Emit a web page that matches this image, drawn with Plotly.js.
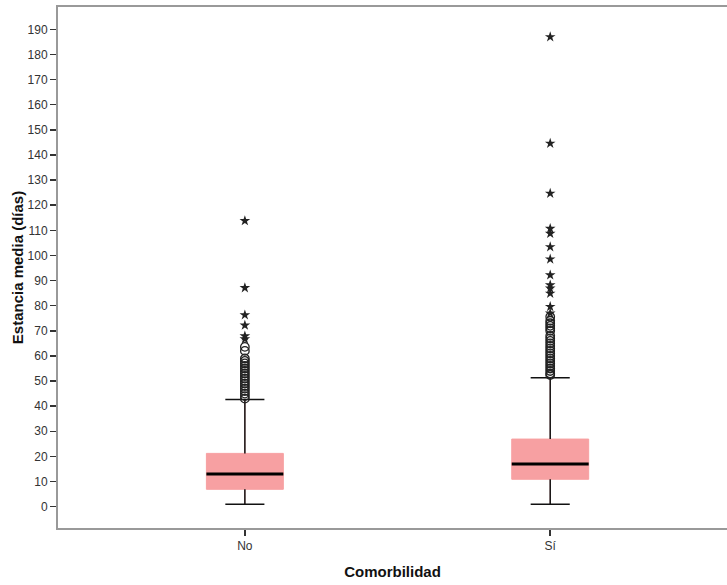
<!DOCTYPE html>
<html>
<head>
<meta charset="utf-8">
<script src="https://cdn.plot.ly/plotly-3.0.1.min.js"></script>
<style>html,body{margin:0;padding:0;background:#fff;}#chart{width:727px;height:585px;}</style>
</head>
<body>
<div id="chart"></div>
<script>
// ---- Data ----
const categories = ['No', 'Sí'];
const q1 = [6.9, 10.9];
const median = [13.0, 17.0];
const q3 = [21.2, 26.9];
const lowerWhisker = [1, 1];
const upperWhisker = [42.7, 51.3];

const outliersNo = [43, 44, 45, 46, 47, 48, 49, 50, 51, 52, 53, 54, 55, 56, 57, 58, 59, 62, 63.6];
const extremesNo = [66.7, 67.9, 72.2, 76.3, 87.1, 113.8];
const outliersSi = [52.4, 53, 54, 55, 56, 57, 58, 59, 60, 61, 62, 63, 64, 65, 66, 67, 68, 70, 71, 72, 73, 74, 75.6];
const extremesSi = [77, 79.6, 84.9, 86.9, 88.2, 92.2, 98.5, 103.4, 108.7, 110.7, 124.7, 144.6, 187.0];

const yTicks = [0,10,20,30,40,50,60,70,80,90,100,110,120,130,140,150,160,170,180,190];

// ---- Style ----
const boxWidth = 0.252;
const capHalf = 0.064;
const pink = '#F7A0A2';
const fontFam = '"Liberation Sans", Arial, sans-serif';

const traces = [];

// Boxes
traces.push({
  type: 'box',
  x: categories.map((c, i) => i),
  q1: q1, median: median, q3: q3,
  lowerfence: lowerWhisker, upperfence: upperWhisker,
  width: boxWidth,
  fillcolor: pink,
  line: {color: pink, width: 1},
  whiskerwidth: 0,
  boxpoints: false,
  hoverinfo: 'skip',
  showlegend: false
});

// Whiskers
const wx = [], wy = [];
categories.forEach((c, i) => {
  wx.push(i, i, null, i, i, null, i - capHalf, i + capHalf, null, i - capHalf, i + capHalf, null);
  wy.push(lowerWhisker[i], q1[i], null, q3[i], upperWhisker[i], null, lowerWhisker[i], lowerWhisker[i], null, upperWhisker[i], upperWhisker[i], null);
});
traces.push({type: 'scatter', mode: 'lines', x: wx, y: wy, line: {color: '#111', width: 1.5}, hoverinfo: 'skip', showlegend: false});

// Medians
const mx = [], my = [];
categories.forEach((c, i) => {
  mx.push(i - boxWidth / 2, i + boxWidth / 2, null);
  my.push(median[i], median[i], null);
});
traces.push({type: 'scatter', mode: 'lines', x: mx, y: my, line: {color: '#000', width: 3}, hoverinfo: 'skip', showlegend: false});

// Outliers (circles) and extremes (stars)
const outliers = [outliersNo, outliersSi];
const extremes = [extremesNo, extremesSi];
outliers.forEach((arr, i) => {
  traces.push({type: 'scatter', mode: 'markers', x: arr.map(() => i), y: arr,
    marker: {symbol: 'circle-open', size: 8.5, color: '#222', line: {width: 1.3, color: '#222'}},
    showlegend: false});
});
extremes.forEach((arr, i) => {
  traces.push({type: 'scatter', mode: 'markers', x: arr.map(() => i), y: arr,
    marker: {symbol: 'star', size: 8, color: '#222', line: {width: 0}},
    showlegend: false});
});

const layout = {
  width: 727, height: 585,
  margin: {l: 58, r: 0, t: 7, b: 57},
  paper_bgcolor: '#fff', plot_bgcolor: '#fff',
  font: {family: fontFam, size: 12, color: '#333'},
  showlegend: false,
  xaxis: {
    type: 'linear',
    range: [-0.612, 1.579],
    tickvals: categories.map((c, i) => i),
    ticktext: categories,
    ticks: 'outside', ticklen: 6, tickwidth: 1.5, tickcolor: '#333',
    showline: true, linecolor: '#999', linewidth: 2, mirror: true,
    showgrid: false, zeroline: false,
    tickfont: {family: fontFam, size: 12, color: '#333'},
    title: {text: '<b>Comorbilidad</b>', font: {family: fontFam, size: 15, color: '#111'}, standoff: 14}
  },
  yaxis: {
    range: [-8.5, 198.9],
    tickvals: yTicks,
    ticks: 'outside', ticklen: 6, tickwidth: 1.5, tickcolor: '#333',
    showline: true, linecolor: '#999', linewidth: 2,
    showgrid: false, zeroline: false,
    tickfont: {family: fontFam, size: 12, color: '#333'},
    title: {text: '<b>Estancia media (días)</b>', font: {family: fontFam, size: 15, color: '#111'}, standoff: 0}
  }
};

Plotly.newPlot('chart', traces, layout, {staticPlot: true, displayModeBar: false});
</script>
</body>
</html>
